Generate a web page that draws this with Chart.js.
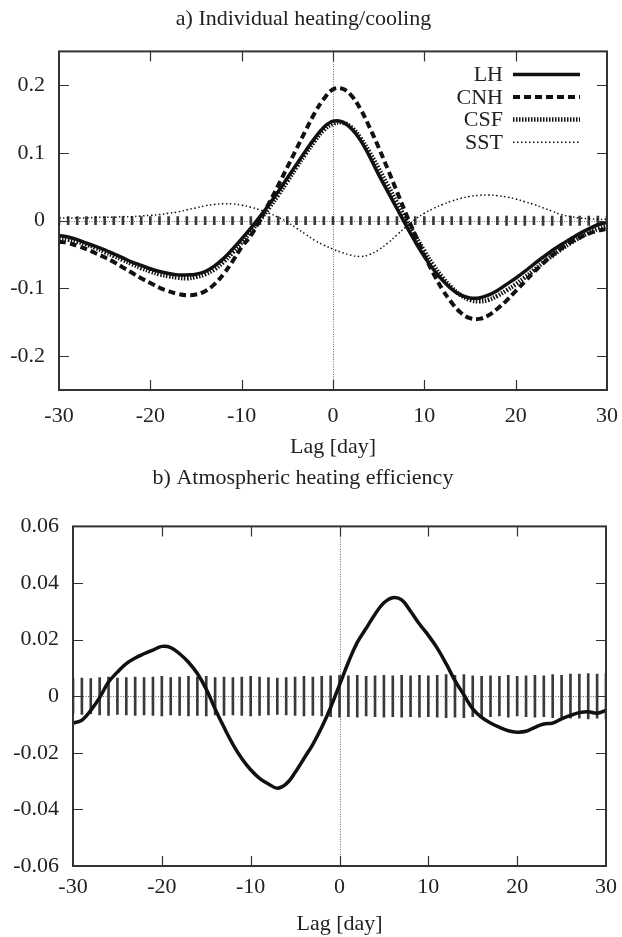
<!DOCTYPE html>
<html>
<head>
<meta charset="utf-8">
<script src="https://cdn.jsdelivr.net/npm/chart.js@4.4.1/dist/chart.umd.min.js"></script>
<style>
  html, body { margin: 0; padding: 0; background: #fff; }
  .painel { position: relative; width: 622px; }
  #painel-a { height: 462px; }
  #painel-b { height: 475px; }
</style>
</head>
<body>
<div class="painel" id="painel-a"><canvas id="graf-a"></canvas></div>
<div class="painel" id="painel-b"><canvas id="graf-b"></canvas></div>
<script>
/* global Chart */
// Defasagem em dias (-30 .. 30)
const DIAS = [-30,-29,-28,-27,-26,-25,-24,-23,-22,-21,-20,-19,-18,-17,-16,-15,-14,-13,-12,-11,
  -10,-9,-8,-7,-6,-5,-4,-3,-2,-1,0,1,2,3,4,5,6,7,8,9,10,11,12,13,14,15,16,17,18,19,20,
  21,22,23,24,25,26,27,28,29,30];

// a) aquecimento/resfriamento individual
const LH = [-0.022,-0.024,-0.028,-0.033,-0.038,-0.043,-0.049,-0.055,-0.061,-0.066,
  -0.071,-0.075,-0.078,-0.080,-0.080,-0.079,-0.075,-0.067,-0.056,-0.042,
  -0.027,-0.011,0.006,0.024,0.043,0.063,0.083,0.103,0.122,0.138,
  0.147,0.146,0.136,0.119,0.095,0.068,0.043,0.018,-0.007,-0.031,
  -0.053,-0.072,-0.088,-0.101,-0.110,-0.114,-0.114,-0.110,-0.103,-0.094,
  -0.085,-0.075,-0.064,-0.054,-0.044,-0.035,-0.027,-0.019,-0.012,-0.006,-0.002];
const CNH = [-0.031,-0.033,-0.037,-0.042,-0.048,-0.054,-0.061,-0.069,-0.077,-0.085,
  -0.092,-0.099,-0.104,-0.108,-0.110,-0.109,-0.104,-0.094,-0.079,-0.060,
  -0.039,-0.022,0.001,0.026,0.052,0.079,0.106,0.133,0.159,0.180,
  0.194,0.195,0.185,0.165,0.138,0.108,0.076,0.043,0.010,-0.021,
  -0.051,-0.078,-0.102,-0.121,-0.136,-0.144,-0.145,-0.140,-0.130,-0.118,
  -0.104,-0.090,-0.076,-0.063,-0.051,-0.041,-0.032,-0.025,-0.019,-0.015,-0.012];
const CSF = [-0.026,-0.028,-0.031,-0.035,-0.040,-0.046,-0.052,-0.058,-0.064,-0.070,
  -0.075,-0.079,-0.082,-0.084,-0.085,-0.083,-0.079,-0.072,-0.061,-0.047,
  -0.032,-0.016,0.001,0.019,0.038,0.058,0.079,0.099,0.118,0.134,
  0.143,0.145,0.138,0.122,0.101,0.077,0.052,0.027,0.002,-0.022,
  -0.045,-0.066,-0.084,-0.099,-0.110,-0.117,-0.119,-0.117,-0.111,-0.103,
  -0.094,-0.084,-0.073,-0.062,-0.052,-0.042,-0.033,-0.025,-0.018,-0.012,-0.008];
const SST = [0.004,0.004,0.004,0.004,0.005,0.005,0.005,0.006,0.006,0.007,
  0.008,0.009,0.011,0.013,0.016,0.019,0.022,0.024,0.025,0.025,
  0.023,0.020,0.016,0.011,0.005,-0.002,-0.011,-0.020,-0.029,-0.036,
  -0.042,-0.047,-0.051,-0.053,-0.050,-0.043,-0.033,-0.021,-0.009,0.002,
  0.011,0.018,0.024,0.029,0.033,0.036,0.0375,0.038,0.037,0.035,
  0.032,0.028,0.024,0.019,0.014,0.009,0.006,0.004,0.003,0.002,0.002];
const ERRO_A = [0.006,0.006,0.006,0.006,0.006,0.006,0.006,0.006,0.006,0.006,
  0.006,0.006,0.006,0.006,0.006,0.006,0.006,0.006,0.006,0.006,
  0.006,0.006,0.006,0.006,0.006,0.006,0.006,0.006,0.006,0.006,
  0.006,0.006,0.006,0.006,0.006,0.006,0.006,0.006,0.006,0.006,
  0.006,0.006,0.006,0.006,0.006,0.006,0.006,0.006,0.006,0.007,
  0.006,0.007,0.006,0.007,0.007,0.007,0.007,0.007,0.007,0.007,0.007];

// b) eficiência do aquecimento atmosférico
const EFIC = [-0.0095,-0.0085,-0.005,-0.0005,0.005,0.0085,0.0115,0.0135,0.015,0.0163,
  0.0176,0.0172,0.015,0.012,0.008,0.0025,-0.0045,-0.011,-0.017,-0.022,
  -0.026,-0.029,-0.031,-0.0325,-0.031,-0.027,-0.022,-0.017,-0.011,-0.004,
  0.004,0.012,0.019,0.024,0.029,0.033,0.0348,0.034,0.030,0.0255,
  0.0215,0.017,0.0115,0.0055,0.0005,-0.0045,-0.0075,-0.0095,-0.011,-0.0122,
  -0.0127,-0.0124,-0.011,-0.0098,-0.0095,-0.008,-0.0068,-0.0058,-0.0055,-0.006,-0.005];
const ERRO_B = [0.0062,0.0064,0.0062,0.0066,0.0068,0.0064,0.0066,0.0068,0.0066,0.0068,
  0.0070,0.0066,0.0068,0.0070,0.0068,0.0070,0.0066,0.0068,0.0066,0.0068,
  0.0070,0.0068,0.0066,0.0064,0.0066,0.0068,0.0070,0.0068,0.0070,0.0072,
  0.0074,0.0072,0.0074,0.0070,0.0072,0.0074,0.0072,0.0074,0.0072,0.0074,
  0.0072,0.0074,0.0076,0.0074,0.0076,0.0072,0.0070,0.0072,0.0070,0.0074,
  0.0070,0.0072,0.0074,0.0072,0.0076,0.0074,0.0078,0.0078,0.0080,0.0078,0.0080];

const MARCAS_X = [-30,-20,-10,0,10,20,30];
const MARCAS_Y_A = [-0.2,-0.1,0,0.1,0.2];
const MARCAS_Y_B = [-0.06,-0.04,-0.02,0,0.02,0.04,0.06];
const LIMITES_A = [-0.25, 0.25];
const LIMITES_B = [-0.06, 0.06];

const FONTE = '"Liberation Serif", "Times New Roman", serif';
const TINTA = '#222';
Chart.defaults.font.family = FONTE;
Chart.defaults.font.size = 22;
Chart.defaults.color = TINTA;

const pares = (serie) => DIAS.map((d, i) => ({ x: d, y: serie[i] }));
const barras = (erro) => DIAS.map((d, i) => ({ x: d, y: [-erro[i], erro[i]] }));

// moldura estilo gnuplot: caixa, marcas para dentro e linhas do zero
const moldura = {
  id: 'moldura',
  beforeDatasetsDraw(chart) {
    const { ctx, chartArea: a, scales: { x, y } } = chart;
    ctx.save();
    ctx.strokeStyle = '#666';
    ctx.lineWidth = 1;
    ctx.setLineDash([1, 1.5]);
    const px0 = Math.round(x.getPixelForValue(0)) + 0.5;
    const py0 = Math.round(y.getPixelForValue(0)) + 0.5;
    ctx.beginPath();
    ctx.moveTo(px0, a.top); ctx.lineTo(px0, a.bottom);
    ctx.moveTo(a.left, py0); ctx.lineTo(a.right, py0);
    ctx.stroke();
    ctx.restore();
  },
  afterDraw(chart) {
    const { ctx, chartArea: a, scales: { x, y } } = chart;
    const TL = 10;
    ctx.save();
    ctx.strokeStyle = '#333';
    ctx.lineWidth = 1.2;
    ctx.beginPath();
    x.ticks.forEach(t => {
      const px = Math.round(x.getPixelForValue(t.value)) + 0.5;
      if (px <= a.left + 1 || px >= a.right - 1) return;
      ctx.moveTo(px, a.bottom); ctx.lineTo(px, a.bottom - TL);
      ctx.moveTo(px, a.top); ctx.lineTo(px, a.top + TL);
    });
    y.ticks.forEach(t => {
      const py = Math.round(y.getPixelForValue(t.value)) + 0.5;
      if (py <= a.top + 1 || py >= a.bottom - 1) return;
      ctx.moveTo(a.left, py); ctx.lineTo(a.left + TL, py);
      ctx.moveTo(a.right, py); ctx.lineTo(a.right - TL, py);
    });
    ctx.stroke();
    ctx.lineWidth = 2;
    ctx.strokeRect(a.left, a.top, a.right - a.left, a.bottom - a.top);
    ctx.restore();
  }
};

// legenda do painel a: rótulo à esquerda, amostra da linha à direita
const legenda = {
  id: 'legenda',
  afterDatasetsDraw(chart) {
    const { ctx, chartArea: a } = chart;
    ctx.save();
    ctx.font = '22px ' + FONTE;
    ctx.fillStyle = TINTA;
    ctx.textAlign = 'right';
    ctx.textBaseline = 'middle';
    chart.data.datasets.filter(d => d.type === 'line').forEach((d, i) => {
      const y = a.top + 23 + i * 22.6;
      ctx.fillText(d.label, a.right - 104, y + 1);
      ctx.strokeStyle = d.borderColor;
      ctx.lineWidth = d.borderWidth;
      ctx.setLineDash(d.borderDash || []);
      ctx.beginPath();
      ctx.moveTo(a.right - 94, y);
      ctx.lineTo(a.right - 27, y);
      ctx.stroke();
    });
    ctx.restore();
  }
};

function linha(label, serie, largura, traco) {
  return {
    type: 'line', label, data: pares(serie),
    borderColor: '#111', borderWidth: largura, borderDash: traco,
    pointRadius: 0, tension: 0.4, fill: false, order: 1
  };
}

function barraErro(erro) {
  return {
    type: 'bar', label: 'erro', data: barras(erro),
    backgroundColor: '#3a3a3a', barThickness: 2, order: 5
  };
}

function opcoes(titulo, tituloPad, marcasY, limites, larguraY, alturaX, padTicksX, padTituloX, dirPad) {
  return {
    responsive: true, maintainAspectRatio: false, animation: false,
    devicePixelRatio: 1,
    layout: { padding: { left: 0, right: dirPad, top: 0, bottom: 0 } },
    plugins: {
      legend: { display: false },
      tooltip: { enabled: false },
      title: { display: true, text: titulo, color: TINTA,
        font: { size: 22, weight: 'normal' }, padding: tituloPad }
    },
    scales: {
      x: {
        type: 'linear', min: -30, max: 30, offset: false,
        afterBuildTicks: s => { s.ticks = MARCAS_X.map(v => ({ value: v })); },
        afterFit: s => { s.height = alturaX; s.paddingLeft = 0; s.paddingRight = 0; },
        ticks: { padding: padTicksX, maxRotation: 0, autoSkip: false, callback: v => String(v) },
        grid: { display: false, offset: false },
        border: { display: false },
        title: { display: true, text: 'Lag [day]', padding: { top: 0, bottom: padTituloX } }
      },
      y: {
        type: 'linear', min: limites[0], max: limites[1],
        afterBuildTicks: s => { s.ticks = marcasY.map(v => ({ value: v })); },
        afterFit: s => { s.width = larguraY; },
        ticks: { padding: 6, autoSkip: false, callback: v => String(v) },
        grid: { display: false },
        border: { display: false }
      }
    }
  };
}

new Chart(document.getElementById('graf-a'), {
  data: {
    datasets: [
      linha('LH', LH, 3.5, []),
      linha('CNH', CNH, 4, [7, 4]),
      linha('CSF', CSF, 4.5, [1.5, 1.5]),
      linha('SST', SST, 1.5, [1.5, 2.5]),
      barraErro(ERRO_A)
    ]
  },
  options: opcoes('a) Individual heating/cooling', { top: 6, bottom: 19 },
    MARCAS_Y_A, LIMITES_A, 59, 72, 5, 2, 15),
  plugins: [moldura, legenda]
});

new Chart(document.getElementById('graf-b'), {
  data: {
    datasets: [
      linha('eficiência', EFIC, 3.5, []),
      barraErro(ERRO_B)
    ]
  },
  options: opcoes('b) Atmospheric heating efficiency', { top: 3, bottom: 35 },
    MARCAS_Y_B, LIMITES_B, 73, 71, 0, 0, 16),
  plugins: [moldura]
});
</script>
</body>
</html>
